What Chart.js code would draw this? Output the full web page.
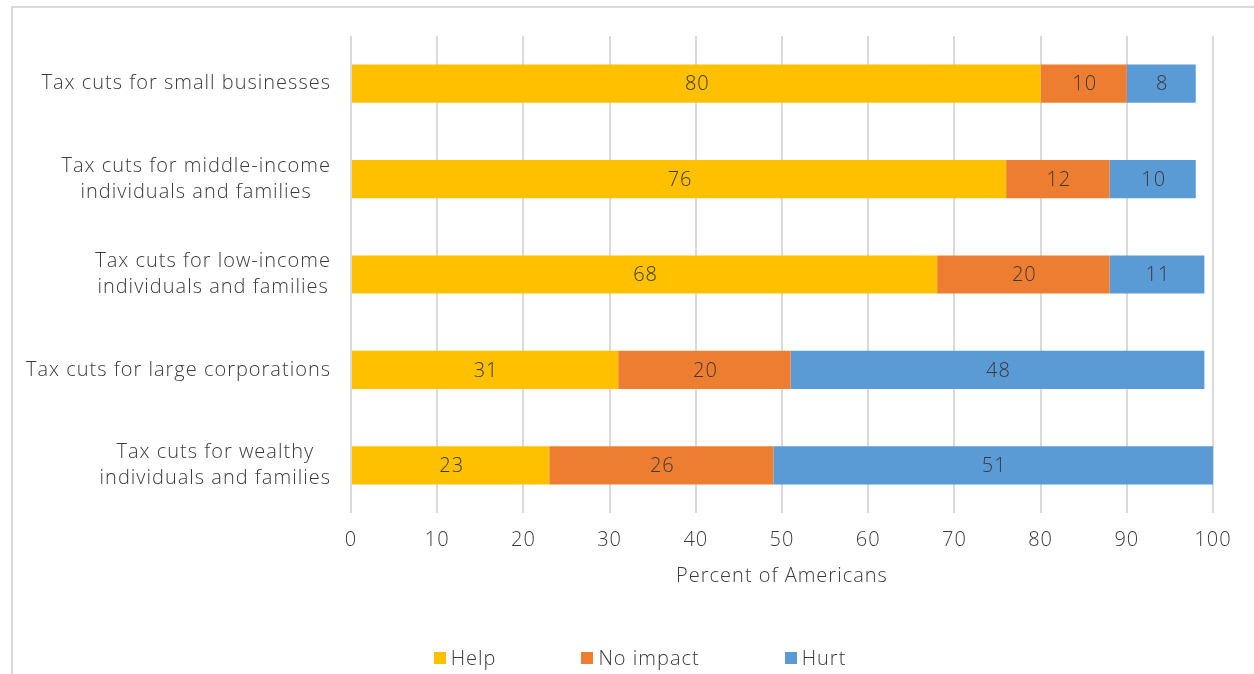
<!DOCTYPE html>
<html>
<head>
<meta charset="utf-8">
<script src="https://cdn.jsdelivr.net/npm/chart.js@4.4.1/dist/chart.umd.min.js"></script>
<style>
  html, body { margin: 0; padding: 0; background: #fff; overflow: hidden; }
  #wrap { position: relative; width: 1254px; height: 674px; }
  #frame { position: absolute; left: 11px; top: 6px; width: 1400px; height: 800px;
           border: 2px solid #d9d9d9; box-sizing: border-box; }
  #c { position: absolute; left: 0; top: 0; }
  #legend { position: absolute; left: 0; width: 1280px; top: 644px;
            display: flex; justify-content: center; gap: 85px;
            font: 300 20px 'Open Sans', sans-serif; letter-spacing: 1px; color: #3a3a3a; }
  #legend span.item { display: flex; align-items: center; white-space: nowrap; }
  #legend i { display: inline-block; width: 12px; height: 12px; margin-right: 5px; }
</style>
</head>
<body>
<div id="wrap">
  <div id="frame"></div>
  <canvas id="c" width="1254" height="674"></canvas>
  <div id="legend"></div>
</div>
<script>
const FONT = "'Open Sans', sans-serif";
const TEXT = "#3a3a3a";

const categories = [
  ["Tax cuts for small businesses"],
  ["Tax cuts for middle-income", "individuals and families"],
  ["Tax cuts for low-income", "individuals and families"],
  ["Tax cuts for large corporations"],
  ["Tax cuts for wealthy", "individuals and families"],
];
const help     = [80, 76, 68, 31, 23];
const noImpact = [10, 12, 20, 20, 26];
const hurt     = [8, 10, 11, 48, 51];
const xTicks   = [0, 10, 20, 30, 40, 50, 60, 70, 80, 90, 100];

/* wider tracking for all canvas text */
const spacing = {
  id: "spacing",
  beforeDraw(chart) { chart.ctx.letterSpacing = "1px"; },
};

/* value labels centred in each segment */
const segLabels = {
  id: "segLabels",
  afterDatasetsDraw(chart) {
    const ctx = chart.ctx;
    ctx.save();
    ctx.font = "300 20px " + FONT;
    ctx.fillStyle = TEXT;
    ctx.textAlign = "center";
    ctx.textBaseline = "middle";
    chart.data.datasets.forEach((ds, i) => {
      chart.getDatasetMeta(i).data.forEach((el, j) => {
        ctx.fillText(String(ds.data[j]), (el.x + el.base) / 2 + 1, el.y + 1);
      });
    });
    ctx.restore();
  },
};

/* category labels: block right-aligned, lines centred */
const catLabels = {
  id: "catLabels",
  afterDraw(chart) {
    const ctx = chart.ctx;
    const y = chart.scales.y;
    const right = chart.chartArea.left - 20;
    const lh = 26;
    ctx.save();
    ctx.font = "300 20px " + FONT;
    ctx.fillStyle = TEXT;
    ctx.textAlign = "center";
    ctx.textBaseline = "middle";
    categories.forEach((lines, i) => {
      const w = Math.max(...lines.map(l => ctx.measureText(l).width));
      const cx = right - w / 2;
      const cy = y.getPixelForValue(i);
      lines.forEach((l, k) => {
        ctx.fillText(l, cx, cy + (k - (lines.length - 1) / 2) * lh);
      });
    });
    ctx.restore();
  },
};

const chart = new Chart(document.getElementById("c"), {
  type: "bar",
  data: {
    labels: categories.map(l => l.join(" ")),
    datasets: [
      { label: "Help",      data: help,     backgroundColor: "#FFC000" },
      { label: "No impact", data: noImpact, backgroundColor: "#ED7D31" },
      { label: "Hurt",      data: hurt,     backgroundColor: "#5B9BD5" },
    ],
  },
  options: {
    indexAxis: "y",
    responsive: false,
    animation: false,
    barPercentage: 0.4,
    categoryPercentage: 1,
    layout: { padding: { left: 0, top: 36, right: 41, bottom: 86 } },
    plugins: {
      legend: { display: false },
      tooltip: { enabled: false },
    },
    scales: {
      x: {
        stacked: true,
        min: 0, max: 100,
        afterBuildTicks: s => { s.ticks = xTicks.map(v => ({ value: v })); },
        afterFit: s => { s.height = 75; },
        grid: { color: "#d9d9d9", lineWidth: 2, drawTicks: false },
        border: { display: false },
        ticks: { color: TEXT, font: { family: FONT, size: 20, weight: 300 }, padding: 15 },
        title: {
          display: true, text: "Percent of Americans",
          color: TEXT, font: { family: FONT, size: 20, weight: 300 },
          padding: { top: 0, bottom: 0 },
        },
      },
      y: {
        stacked: true,
        afterFit: s => { s.width = 351; },
        grid: { display: false },
        border: { display: false },
        ticks: { display: false },
      },
    },
  },
  plugins: [spacing, segLabels, catLabels],
});

/* legend from the datasets */
const legend = document.getElementById("legend");
chart.data.datasets.forEach(ds => {
  const item = document.createElement("span");
  item.className = "item";
  const box = document.createElement("i");
  box.style.background = ds.backgroundColor;
  item.appendChild(box);
  item.appendChild(document.createTextNode(ds.label));
  legend.appendChild(item);
});
</script>
</body>
</html>
